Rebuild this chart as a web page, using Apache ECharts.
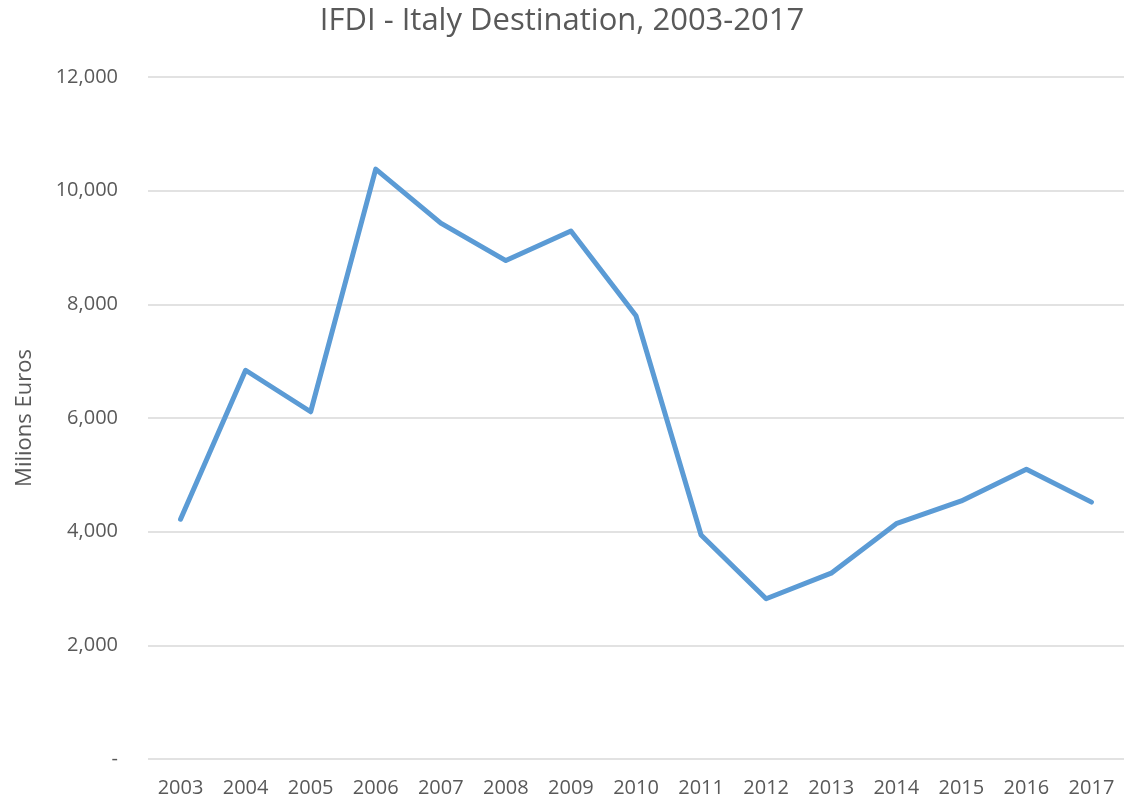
<!DOCTYPE html>
<html>
<head>
<meta charset="utf-8">
<script src="https://cdn.jsdelivr.net/npm/echarts@6/dist/echarts.min.js"></script>
<style>
  html, body { margin: 0; padding: 0; background: #fff; }
  #ifdi-chart { width: 1124px; height: 804px; }
</style>
</head>
<body>
<div id="ifdi-chart"></div>
<script>
// anni e valori (milioni di euro)
var years = ['2003', '2004', '2005', '2006', '2007', '2008', '2009', '2010',
  '2011', '2012', '2013', '2014', '2015', '2016', '2017'];
var ifdiValues = [4220, 6840, 6110, 10380, 9430, 8770, 9290, 7800,
  3940, 2820, 3270, 4140, 4540, 5100, 4520];

var myChart = echarts.init(document.getElementById('ifdi-chart'));
var labelFont = 'Open Sans';
var option = {
  textStyle: { fontFamily: labelFont },
  title: {
    text: 'IFDI - Italy Destination, 2003-2017',
    left: 'center',
    top: 1,
    textStyle: {
      color: '#595959',
      fontSize: 31,
      fontWeight: 'normal',
      fontFamily: labelFont
    }
  },
  grid: {
    left: 148,
    right: -10,
    top: 77,
    bottom: 45
  },
  xAxis: {
    type: 'category',
    data: years,
    axisLine: { show: false },
    axisTick: { show: false },
    axisLabel: {
      color: '#595959',
      fontSize: 20,
      margin: 19
    }
  },
  yAxis: {
    type: 'value',
    min: 0,
    max: 12000,
    interval: 2000,
    name: 'Milions Euros',
    nameLocation: 'middle',
    nameRotate: 90,
    nameGap: 112,
    nameTextStyle: {
      color: '#595959',
      fontSize: 22
    },
    axisLine: { show: false },
    axisTick: { show: false },
    axisLabel: {
      color: '#595959',
      fontSize: 20,
      margin: 30,
      formatter: function (v) {
        if (v === 0) return '-';   // come nel grafico Excel
        return v.toLocaleString('en-US');
      }
    },
    splitLine: {
      lineStyle: { color: '#d9d9d9', width: 1.5 }
    }
  },
  series: [
    {
      name: 'IFDI',
      type: 'line',
      data: ifdiValues,
      symbol: 'none',
      lineStyle: {
        color: '#5b9bd5',
        width: 5,
        cap: 'round',
        join: 'round'
      },
      itemStyle: { color: '#5b9bd5' }
    }
  ]
};

myChart.setOption(option);

window.addEventListener('resize', function () {
  myChart.resize();
});
</script>
</body>
</html>
